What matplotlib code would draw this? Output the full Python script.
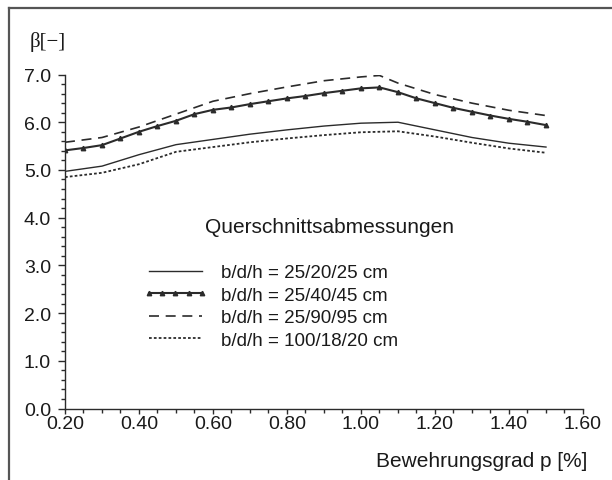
import matplotlib
matplotlib.use("Agg")
import matplotlib.pyplot as plt
import numpy as np
from matplotlib.lines import Line2D
from matplotlib.ticker import MultipleLocator, FormatStrFormatter

plt.rcParams['font.family'] = ['Liberation Sans', 'DejaVu Sans']

# Bewehrungsgrad p [%] und Zuverlaessigkeitsindex beta je Querschnitt
p_2520 = [0.20, 0.30, 0.40, 0.50, 0.60, 0.70, 0.80, 0.90, 1.00, 1.10, 1.20, 1.30, 1.40, 1.50]
beta_2520 = [4.97, 5.08, 5.32, 5.53, 5.64, 5.75, 5.84, 5.92, 5.98, 6.00, 5.84, 5.68, 5.56, 5.48]

p_2540 = [0.20, 0.25, 0.30, 0.35, 0.40, 0.45, 0.50, 0.55, 0.60, 0.65, 0.70, 0.75, 0.80, 0.85,
          0.90, 0.95, 1.00, 1.05, 1.10, 1.15, 1.20, 1.25, 1.30, 1.35, 1.40, 1.45, 1.50]
beta_2540 = [5.41, 5.46, 5.52, 5.66, 5.80, 5.92, 6.03, 6.17, 6.26, 6.31, 6.38, 6.44, 6.50, 6.55,
             6.61, 6.66, 6.71, 6.73, 6.63, 6.50, 6.40, 6.30, 6.22, 6.14, 6.07, 6.01, 5.94]

p_2590 = [0.20, 0.30, 0.40, 0.50, 0.60, 0.70, 0.80, 0.90, 1.00, 1.05, 1.10, 1.20, 1.30, 1.40, 1.50]
beta_2590 = [5.58, 5.68, 5.90, 6.17, 6.44, 6.60, 6.74, 6.87, 6.95, 6.98, 6.82, 6.58, 6.40, 6.25, 6.14]

p_10018 = [0.20, 0.30, 0.40, 0.50, 0.60, 0.70, 0.80, 0.90, 1.00, 1.10, 1.20, 1.30, 1.40, 1.50]
beta_10018 = [4.85, 4.94, 5.12, 5.38, 5.48, 5.58, 5.66, 5.73, 5.79, 5.81, 5.70, 5.57, 5.45, 5.36]

labels = ['b/d/h = 25/20/25 cm', 'b/d/h = 25/40/45 cm', 'b/d/h = 25/90/95 cm', 'b/d/h = 100/18/20 cm']

col = '#2b2b2b'

fig = plt.figure(figsize=(6.12, 4.81), dpi=100)
ax = fig.add_axes([0.1062, 0.1486, 0.8464, 0.6944])

ax.plot(p_2520, beta_2520, color=col, lw=1.0, label=labels[0])
ax.plot(p_2540, beta_2540, color=col, lw=1.5, marker='^', ms=3.2, label=labels[1])
ax.plot(p_2590, beta_2590, color=col, lw=1.2, dashes=(6, 4), label=labels[2])
ax.plot(p_10018, beta_10018, color=col, lw=1.3, dashes=(1.5, 1.2), label=labels[3])

ax.set_xlim(0.2, 1.6)
ax.set_ylim(0, 7)
ax.xaxis.set_major_locator(MultipleLocator(0.2))
ax.xaxis.set_minor_locator(MultipleLocator(0.05))
ax.yaxis.set_major_locator(MultipleLocator(1.0))
ax.yaxis.set_minor_locator(MultipleLocator(0.2))
ax.xaxis.set_major_formatter(FormatStrFormatter('%.2f'))
ax.yaxis.set_major_formatter(FormatStrFormatter('%.1f'))

for s in ['top', 'right']:
    ax.spines[s].set_visible(False)
for s in ['left', 'bottom']:
    ax.spines[s].set_color(col)
    ax.spines[s].set_linewidth(1.0)

ax.tick_params(axis='x', which='major', length=3.5, width=1.0, pad=1.5, labelsize=14, color=col)
ax.tick_params(axis='x', which='minor', length=3, width=1.0, color=col)
ax.tick_params(axis='y', which='major', length=5, width=1.0, pad=5, labelsize=14, color=col)
ax.tick_params(axis='y', which='minor', length=3, width=1.0, color=col)
ax.tick_params(labelcolor='#1a1a1a')

fig.canvas.draw()
xt = ax.get_xticklabels()
xt[0].set_horizontalalignment('left')
xt[-1].set_horizontalalignment('right')

fig.text(0.049, 0.912, 'β[−]', fontsize=15, family=['Liberation Serif', 'DejaVu Serif'],
         color='#1a1a1a', va='center', ha='left')
fig.text(0.959, 0.040, 'Bewehrungsgrad p [%]', fontsize=15, color='#1a1a1a', ha='right', va='center')
fig.text(0.539, 0.528, 'Querschnittsabmessungen', fontsize=15, color='#1a1a1a', ha='center', va='center')

leg = ax.legend(loc='upper left', bbox_to_anchor=(0.2337, 0.449), bbox_transform=fig.transFigure,
                frameon=False, fontsize=13.5, handlelength=3.45, handletextpad=0.7,
                labelspacing=0.29, borderpad=0, borderaxespad=0, numpoints=5)
for t in leg.get_texts():
    t.set_color('#1a1a1a')

# Rahmen links und oben
fig.add_artist(Line2D([0.0155, 0.0155], [0.0, 0.981], transform=fig.transFigure, color='#555555', lw=1.6))
fig.add_artist(Line2D([0.0155, 1.0], [0.981, 0.981], transform=fig.transFigure, color='#555555', lw=1.6))

fig.savefig('out.png', dpi=100)
